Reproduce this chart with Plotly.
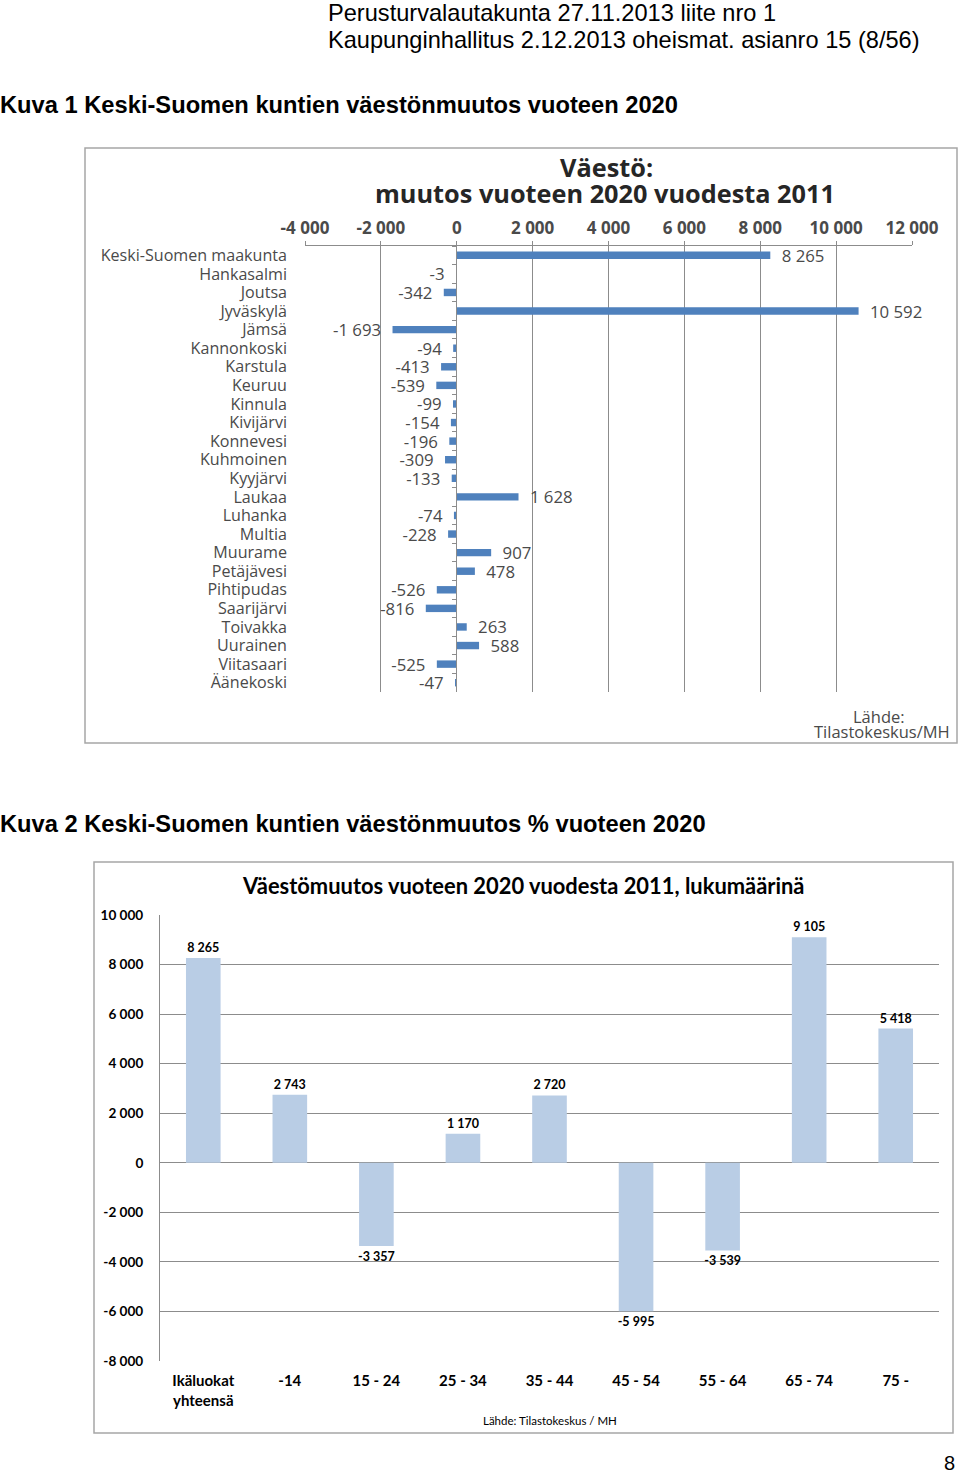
import plotly.graph_objects as go

W, H = 960, 1474

# ---------- data ----------
municipalities = ["Keski-Suomen maakunta", "Hankasalmi", "Joutsa", "Jyväskylä", "Jämsä",
                  "Kannonkoski", "Karstula", "Keuruu", "Kinnula", "Kivijärvi", "Konnevesi",
                  "Kuhmoinen", "Kyyjärvi", "Laukaa", "Luhanka", "Multia", "Muurame",
                  "Petäjävesi", "Pihtipudas", "Saarijärvi", "Toivakka", "Uurainen",
                  "Viitasaari", "Äänekoski"]
change_2011_2020 = [8265, -3, -342, 10592, -1693, -94, -413, -539, -99, -154, -196,
                    -309, -133, 1628, -74, -228, 907, 478, -526, -816, 263, 588, -525, -47]

age_groups = ["Ikäluokat<br>yhteensä", "-14", "15 - 24", "25 - 34", "35 - 44",
              "45 - 54", "55 - 64", "65 - 74", "75 -"]
age_change = [8265, 2743, -3357, 1170, 2720, -5995, -3539, 9105, 5418]

x1_ticks = [-4000, -2000, 0, 2000, 4000, 6000, 8000, 10000, 12000]
y2_ticks = [10000, 8000, 6000, 4000, 2000, 0, -2000, -4000, -6000, -8000]


def fmt(v):
    s = f"{abs(v):,}".replace(",", " ")
    return ("-" if v < 0 else "") + s


def fmt_pad(v):
    # small gap between bar end and label, as in the original
    return "\u2002" + fmt(v) if v >= 0 else fmt(v) + "\u2002"


def px(x):
    return x / W


def py(y):
    return 1 - y / H


GRID = "#8c8c8c"
F1 = "Open Sans"
F2 = "Lato"
TXT1 = "#4a4a4a"

fig = go.Figure()

# ---------- chart 1 ----------
fig.add_trace(go.Bar(
    x=change_2011_2020, y=municipalities, orientation="h",
    xaxis="x", yaxis="y", width=0.4,
    marker=dict(color="#4f81bd", line=dict(width=0)),
    text=[fmt_pad(v) for v in change_2011_2020], textposition="outside",
    constraintext="none",
    textfont=dict(family=F1, size=16.8, color=TXT1),
    cliponaxis=False, showlegend=False, hoverinfo="x+y",
))
# invisible helper trace for the category tick marks on the zero line
fig.add_trace(go.Scatter(
    x=[0] * len(municipalities), y=municipalities, xaxis="x", yaxis="y3",
    mode="markers", marker=dict(opacity=0), hoverinfo="skip", showlegend=False,
))

# ---------- chart 2 ----------
fig.add_trace(go.Bar(
    x=age_groups, y=age_change, xaxis="x2", yaxis="y2", width=0.4,
    marker=dict(color="#b9cde5", line=dict(width=0)),
    text=[fmt(v) for v in age_change], textposition="outside",
    constraintext="none",
    textfont=dict(family=F2, size=12.5, color="#000000", weight="bold"),
    cliponaxis=False, showlegend=False,
))

n1 = len(municipalities)
fig.update_layout(
    template="none",
    width=W, height=H, margin=dict(l=0, r=0, t=0, b=0, pad=0), autosize=False,
    paper_bgcolor="white", plot_bgcolor="rgba(0,0,0,0)",
    xaxis=dict(
        domain=[px(305), px(912)], anchor="y", side="top", automargin=False,
        range=[-4000, 12000], tickvals=x1_ticks, ticktext=[fmt(v) for v in x1_ticks],
        showgrid=True, gridcolor=GRID, gridwidth=1,
        zeroline=False, showline=True, linecolor=GRID, linewidth=1,
        ticks="outside", ticklen=4, tickcolor=GRID,
        tickfont=dict(family=F1, size=17, color=TXT1, weight="bold"),
        fixedrange=True,
    ),
    yaxis=dict(
        domain=[py(692), py(246)], anchor="x", automargin=False,
        type="category", categoryorder="array", categoryarray=municipalities,
        range=[n1 - 0.5, -0.5],
        tickmode="array", tickvals=municipalities, ticktext=municipalities,
        showgrid=False, zeroline=False, showline=False, ticks="",
        ticklabelstandoff=17,
        tickfont=dict(family=F1, size=16.1, color=TXT1),
        fixedrange=True,
    ),
    yaxis3=dict(
        overlaying="y", anchor="free", position=px(456), automargin=False,
        type="category", categoryorder="array", categoryarray=municipalities,
        range=[n1 - 0.5, -0.5], tickson="boundaries",
        showgrid=False, zeroline=False, showline=True, linecolor=GRID, linewidth=1,
        ticks="outside", ticklen=4, tickcolor=GRID, showticklabels=False,
        fixedrange=True,
    ),
    xaxis2=dict(
        domain=[px(160), px(939)], anchor="y2", automargin=False,
        type="category", showgrid=False, zeroline=False, showline=False, ticks="",
        tickfont=dict(family=F2, size=15, color="#000000", weight="bold"),
        ticklabelstandoff=9,
        fixedrange=True,
    ),
    yaxis2=dict(
        domain=[py(1361), py(915)], anchor="x2", automargin=False,
        range=[-8000, 10000], tickvals=y2_ticks, ticktext=[fmt(v) for v in y2_ticks],
        showgrid=True, gridcolor=GRID, gridwidth=1,
        zeroline=True, zerolinecolor=GRID, zerolinewidth=1,
        showline=True, linecolor=GRID, linewidth=1, ticks="",
        ticklabelstandoff=13,
        tickfont=dict(family=F2, size=13.6, color="#000000", weight="bold"),
        fixedrange=True,
    ),
)

shapes = [
    dict(type="rect", xref="paper", yref="paper", x0=px(85), x1=px(957), y0=py(743), y1=py(148),
         line=dict(color="#a6a6a6", width=1.5), fillcolor="rgba(0,0,0,0)", layer="below"),
    dict(type="rect", xref="paper", yref="paper", x0=px(94), x1=px(953), y0=py(1433), y1=py(862),
         line=dict(color="#a6a6a6", width=1.5), fillcolor="rgba(0,0,0,0)", layer="below"),
]
fig.update_layout(shapes=shapes)

ann = []


def add_text(text, x, y, size, family, color="#000000", bold=False, xanchor="left", align="left"):
    ann.append(dict(text=text, x=px(x), y=py(y), xref="paper", yref="paper",
                    xanchor=xanchor, yanchor="middle", showarrow=False, align=align,
                    borderpad=0,
                    font=dict(family=family, size=size, color=color,
                              weight="bold" if bold else "normal")))


add_text("Perusturvalautakunta 27.11.2013 liite nro 1", 327, 13, 23.6, "Liberation Sans")
add_text("Kaupunginhallitus 2.12.2013 oheismat. asianro 15 (8/56)", 327, 40, 23.6, "Liberation Sans")
add_text("Kuva 1 Keski-Suomen kuntien väestönmuutos vuoteen 2020", -1, 105, 23.7, "Liberation Sans", bold=True)
add_text("Kuva 2 Keski-Suomen kuntien väestönmuutos % vuoteen 2020", -1, 824, 23.7, "Liberation Sans", bold=True)

add_text("Väestö:", 606, 167, 25.3, F1, color="#262626", bold=True, xanchor="center")
add_text("muutos vuoteen 2020 vuodesta 2011", 605, 193, 25.3, F1, color="#262626", bold=True, xanchor="center")
add_text("Lähde:", 906, 716, 16.5, F1, color=TXT1, xanchor="right")
add_text("Tilastokeskus/MH", 951, 732, 16.5, F1, color=TXT1, xanchor="right")

add_text("Väestömuutos vuoteen 2020 vuodesta 2011, lukumäärinä", 523, 885, 21.9, F2, bold=True, xanchor="center")
add_text("Lähde: Tilastokeskus / MH", 550, 1420, 11.5, F2, xanchor="center")

add_text("8", 949, 1463, 20, "Liberation Sans", xanchor="center")

fig.update_layout(annotations=ann)

fig.write_html("out.html")
